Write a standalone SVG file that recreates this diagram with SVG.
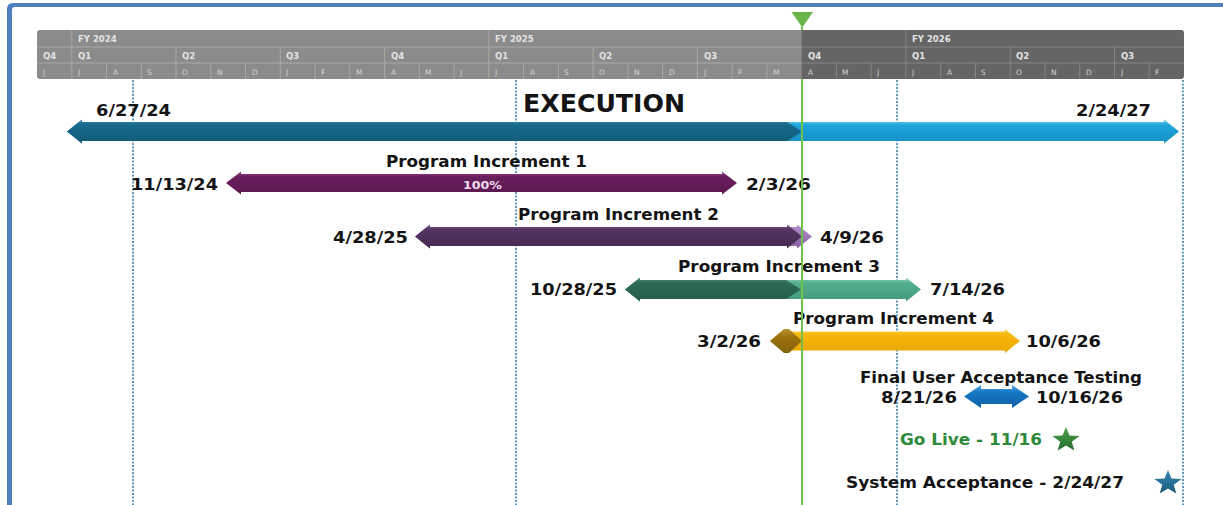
<svg xmlns="http://www.w3.org/2000/svg" width="1223" height="505" viewBox="0 0 1223 505">
<style>
.hd{font-family:"DejaVu Sans","Liberation Sans",sans-serif;font-size:8.5px;font-weight:bold;fill:#e4e4e4}
.mo{font-family:"DejaVu Sans","Liberation Sans",sans-serif;font-size:7.5px;fill:#d2d2d2}
.dv{stroke:#a9a9a9;stroke-width:1}
.dvd{stroke:#858585;stroke-width:1}
.lbl{font-family:"DejaVu Sans","Liberation Sans",sans-serif;font-weight:bold;font-size:16.5px;fill:#141414}
.guide{stroke:#2f77a8;stroke-width:1.5;stroke-dasharray:2 1.5;fill:none}
.today{stroke:#72c04e;stroke-width:2}
</style>
<defs>
<clipPath id="hclip"><rect x="37" y="30" width="1147" height="49" rx="3"/></clipPath>
<linearGradient id="gExD" x1="0" y1="0" x2="0" y2="1"><stop offset="0" stop-color="#3a8fb2"/><stop offset="0.22" stop-color="#18698b"/><stop offset="1" stop-color="#125b79"/></linearGradient>
<linearGradient id="gExL" x1="0" y1="0" x2="0" y2="1"><stop offset="0" stop-color="#7fd3f2"/><stop offset="0.22" stop-color="#1fa6db"/><stop offset="1" stop-color="#158fc3"/></linearGradient>
<linearGradient id="gP1" x1="0" y1="0" x2="0" y2="1"><stop offset="0" stop-color="#94468a"/><stop offset="0.22" stop-color="#6b1f5e"/><stop offset="1" stop-color="#5a1750"/></linearGradient>
<linearGradient id="gP2D" x1="0" y1="0" x2="0" y2="1"><stop offset="0" stop-color="#7a5a8a"/><stop offset="0.22" stop-color="#533462"/><stop offset="1" stop-color="#452a52"/></linearGradient>
<linearGradient id="gP2L" x1="0" y1="0" x2="0" y2="1"><stop offset="0" stop-color="#b08fc8"/><stop offset="1" stop-color="#8a5fa6"/></linearGradient>
<linearGradient id="gP3D" x1="0" y1="0" x2="0" y2="1"><stop offset="0" stop-color="#55907a"/><stop offset="0.22" stop-color="#2f6b55"/><stop offset="1" stop-color="#275c48"/></linearGradient>
<linearGradient id="gP3L" x1="0" y1="0" x2="0" y2="1"><stop offset="0" stop-color="#8fd3b8"/><stop offset="0.22" stop-color="#52b08e"/><stop offset="1" stop-color="#44997b"/></linearGradient>
<linearGradient id="gP4Y" x1="0" y1="0" x2="0" y2="1"><stop offset="0" stop-color="#ffd860"/><stop offset="0.22" stop-color="#f7b80e"/><stop offset="1" stop-color="#eaa700"/></linearGradient>
<linearGradient id="gP4D" x1="0" y1="0" x2="0" y2="1"><stop offset="0" stop-color="#bf9532"/><stop offset="0.3" stop-color="#9c7410"/><stop offset="1" stop-color="#84620b"/></linearGradient>
<linearGradient id="gFU" x1="0" y1="0" x2="0" y2="1"><stop offset="0" stop-color="#5aaeea"/><stop offset="0.3" stop-color="#1678c5"/><stop offset="1" stop-color="#0f61a5"/></linearGradient>
<linearGradient id="gStarG" x1="0" y1="0" x2="0" y2="1"><stop offset="0" stop-color="#4fa34f"/><stop offset="1" stop-color="#236b2a"/></linearGradient>
<linearGradient id="gStarB" x1="0" y1="0" x2="0" y2="1"><stop offset="0" stop-color="#3a8ab3"/><stop offset="1" stop-color="#18597d"/></linearGradient>
<path id="star" d="M0,-13 L3.2,-4.4 L12.4,-4 L5.2,1.7 L7.6,10.5 L0,5.5 L-7.6,10.5 L-5.2,1.7 L-12.4,-4 L-3.2,-4.4 Z"/>
</defs>

<g id="frame">
<path d="M7,505 V9 Q7,3 13,3 H1223 V7 H15 Q12,7 12,10 V505 Z" fill="#4d80bf"/>
</g>

<g id="connectors">
<line class="guide" x1="133" y1="80" x2="133" y2="505"/>
<line class="guide" x1="516" y1="80" x2="516" y2="505"/>
<line class="guide" x1="897" y1="80" x2="897" y2="505"/>
<line class="guide" x1="1183" y1="80" x2="1183" y2="505"/>
</g>

<g id="header">
<g clip-path="url(#hclip)">
<rect x="37" y="30" width="765" height="49" fill="#8b8b8b"/>
<rect x="801.7" y="30" width="382.3" height="49" fill="#656565"/>
</g>
<line class="dv" x1="37" y1="47" x2="801.7" y2="47"/>
<line class="dv" x1="37" y1="63" x2="801.7" y2="63"/>
<line class="dvd" x1="801.7" y1="47" x2="1184" y2="47"/>
<line class="dvd" x1="801.7" y1="63" x2="1184" y2="63"/>
<g class="dv">
<line x1="71.8" y1="30" x2="71.8" y2="47"/><line x1="488.8" y1="30" x2="488.8" y2="47"/>
<line x1="71.8" y1="47" x2="71.8" y2="63"/><line x1="176" y1="47" x2="176" y2="63"/><line x1="280.3" y1="47" x2="280.3" y2="63"/><line x1="384.6" y1="47" x2="384.6" y2="63"/><line x1="488.8" y1="47" x2="488.8" y2="63"/><line x1="593.1" y1="47" x2="593.1" y2="63"/><line x1="697.4" y1="47" x2="697.4" y2="63"/>
<line x1="71.8" y1="63" x2="71.8" y2="79"/><line x1="106.5" y1="63" x2="106.5" y2="79"/><line x1="141.3" y1="63" x2="141.3" y2="79"/><line x1="176" y1="63" x2="176" y2="79"/><line x1="210.8" y1="63" x2="210.8" y2="79"/><line x1="245.5" y1="63" x2="245.5" y2="79"/><line x1="280.3" y1="63" x2="280.3" y2="79"/><line x1="315.1" y1="63" x2="315.1" y2="79"/><line x1="349.8" y1="63" x2="349.8" y2="79"/><line x1="384.6" y1="63" x2="384.6" y2="79"/><line x1="419.3" y1="63" x2="419.3" y2="79"/><line x1="454.1" y1="63" x2="454.1" y2="79"/><line x1="488.8" y1="63" x2="488.8" y2="79"/><line x1="523.6" y1="63" x2="523.6" y2="79"/><line x1="558.4" y1="63" x2="558.4" y2="79"/><line x1="593.1" y1="63" x2="593.1" y2="79"/><line x1="627.9" y1="63" x2="627.9" y2="79"/><line x1="662.6" y1="63" x2="662.6" y2="79"/><line x1="697.4" y1="63" x2="697.4" y2="79"/><line x1="732.2" y1="63" x2="732.2" y2="79"/><line x1="766.9" y1="63" x2="766.9" y2="79"/>
</g>
<g class="dvd">
<line x1="905.9" y1="30" x2="905.9" y2="47"/>
<line x1="905.9" y1="47" x2="905.9" y2="63"/><line x1="1010.2" y1="47" x2="1010.2" y2="63"/><line x1="1114.5" y1="47" x2="1114.5" y2="63"/>
<line x1="836.4" y1="63" x2="836.4" y2="79"/><line x1="871.2" y1="63" x2="871.2" y2="79"/><line x1="905.9" y1="63" x2="905.9" y2="79"/><line x1="940.7" y1="63" x2="940.7" y2="79"/><line x1="975.5" y1="63" x2="975.5" y2="79"/><line x1="1010.2" y1="63" x2="1010.2" y2="79"/><line x1="1045" y1="63" x2="1045" y2="79"/><line x1="1079.7" y1="63" x2="1079.7" y2="79"/><line x1="1114.5" y1="63" x2="1114.5" y2="79"/><line x1="1149.2" y1="63" x2="1149.2" y2="79"/>
</g>
<text class="hd" x="78" y="42">FY 2024</text>
<text class="hd" x="495" y="42">FY 2025</text>
<text class="hd" x="912" y="42">FY 2026</text>
<text class="hd" x="43" y="59">Q4</text>
<text class="hd" x="78" y="59">Q1</text>
<text class="hd" x="182" y="59">Q2</text>
<text class="hd" x="286" y="59">Q3</text>
<text class="hd" x="391" y="59">Q4</text>
<text class="hd" x="495" y="59">Q1</text>
<text class="hd" x="599" y="59">Q2</text>
<text class="hd" x="704" y="59">Q3</text>
<text class="hd" x="808" y="59">Q4</text>
<text class="hd" x="912" y="59">Q1</text>
<text class="hd" x="1016" y="59">Q2</text>
<text class="hd" x="1121" y="59">Q3</text>
<text class="mo" x="43" y="75">J</text><text class="mo" x="78" y="75">J</text><text class="mo" x="113" y="75">A</text><text class="mo" x="147" y="75">S</text><text class="mo" x="182" y="75">O</text><text class="mo" x="217" y="75">N</text><text class="mo" x="252" y="75">D</text><text class="mo" x="286" y="75">J</text><text class="mo" x="321" y="75">F</text><text class="mo" x="356" y="75">M</text><text class="mo" x="391" y="75">A</text><text class="mo" x="425" y="75">M</text><text class="mo" x="460" y="75">J</text><text class="mo" x="495" y="75">J</text><text class="mo" x="530" y="75">A</text><text class="mo" x="564" y="75">S</text><text class="mo" x="599" y="75">O</text><text class="mo" x="634" y="75">N</text><text class="mo" x="669" y="75">D</text><text class="mo" x="704" y="75">J</text><text class="mo" x="738" y="75">F</text><text class="mo" x="773" y="75">M</text><text class="mo" x="808" y="75">A</text><text class="mo" x="842" y="75">M</text><text class="mo" x="877" y="75">J</text><text class="mo" x="912" y="75">J</text><text class="mo" x="947" y="75">A</text><text class="mo" x="981" y="75">S</text><text class="mo" x="1016" y="75">O</text><text class="mo" x="1051" y="75">N</text><text class="mo" x="1086" y="75">D</text><text class="mo" x="1121" y="75">J</text><text class="mo" x="1155" y="75">F</text>
</g>

<g id="execution">
<polygon points="67,131.5 82,119.5 82,122 1164,122 1164,119.5 1179,131.5 1164,143.5 1164,141 82,141 82,143.5" fill="url(#gExL)"/>
<polygon points="67,131.5 82,119.5 82,122 787,122 802,131.5 787,141 82,141 82,143.5" fill="url(#gExD)"/>
<text class="lbl" x="523" y="112" font-size="24" style="font-size:24px" textLength="162" lengthAdjust="spacingAndGlyphs">EXECUTION</text>
<text class="lbl" x="96" y="116" textLength="75" lengthAdjust="spacingAndGlyphs">6/27/24</text>
<text class="lbl" x="1076" y="116" textLength="75" lengthAdjust="spacingAndGlyphs">2/24/27</text>
</g>

<g id="pi1">
<polygon points="226,183 241,171.5 241,174 722,174 722,171.5 737,183 722,194.5 722,192 241,192 241,194.5" fill="url(#gP1)"/>
<text class="lbl" x="386" y="167" textLength="201" lengthAdjust="spacingAndGlyphs">Program Increment 1</text>
<text class="lbl" x="131" y="190" textLength="87" lengthAdjust="spacingAndGlyphs">11/13/24</text>
<text x="463" y="189" font-family="DejaVu Sans, Liberation Sans, sans-serif" font-size="11" font-weight="bold" fill="#eedcea" textLength="39" lengthAdjust="spacingAndGlyphs">100%</text>
<text class="lbl" x="746" y="190" textLength="65" lengthAdjust="spacingAndGlyphs">2/3/26</text>
</g>

<g id="pi2">
<polygon points="415,236.5 430,224.5 430,227 797,227 797,224.5 812,236.5 797,248.5 797,246 430,246 430,248.5" fill="url(#gP2L)"/>
<polygon points="415,236.5 430,224.5 430,227 787,227 787,224.5 802,236.5 787,248.5 787,246 430,246 430,248.5" fill="url(#gP2D)"/>
<text class="lbl" x="518" y="220" textLength="201" lengthAdjust="spacingAndGlyphs">Program Increment 2</text>
<text class="lbl" x="333" y="243" textLength="75" lengthAdjust="spacingAndGlyphs">4/28/25</text>
<text class="lbl" x="820" y="243" textLength="64" lengthAdjust="spacingAndGlyphs">4/9/26</text>
</g>

<g id="pi3">
<polygon points="625,289.5 640,277.5 640,280 906,280 906,277.5 921,289.5 906,301.5 906,299 640,299 640,301.5" fill="url(#gP3L)"/>
<polygon points="625,289.5 640,277.5 640,280 786,280 801,289.5 786,299 640,299 640,301.5" fill="url(#gP3D)"/>
<text class="lbl" x="678" y="272" textLength="202" lengthAdjust="spacingAndGlyphs">Program Increment 3</text>
<text class="lbl" x="530" y="295" textLength="87" lengthAdjust="spacingAndGlyphs">10/28/25</text>
<text class="lbl" x="930" y="295" textLength="75" lengthAdjust="spacingAndGlyphs">7/14/26</text>
</g>

<g id="pi4">
<polygon points="770,341 785,329 785,331.5 1005,331.5 1005,329 1020,341 1005,353 1005,350.5 785,350.5 785,353" fill="url(#gP4Y)"/>
<polygon points="770,341 784,329 789,329 802,341 789,353 784,353" fill="url(#gP4D)"/>
<text class="lbl" x="793" y="324" textLength="201" lengthAdjust="spacingAndGlyphs">Program Increment 4</text>
<text class="lbl" x="697" y="347" textLength="64" lengthAdjust="spacingAndGlyphs">3/2/26</text>
<text class="lbl" x="1026" y="347" textLength="75" lengthAdjust="spacingAndGlyphs">10/6/26</text>
</g>

<g id="fuat">
<polygon points="964,396.5 981,385 981,389 1012,389 1012,385 1029,396.5 1012,408 1012,404 981,404 981,408" fill="url(#gFU)"/>
<text class="lbl" x="860" y="383" textLength="282" lengthAdjust="spacingAndGlyphs">Final User Acceptance Testing</text>
<text class="lbl" x="881" y="403" textLength="76" lengthAdjust="spacingAndGlyphs">8/21/26</text>
<text class="lbl" x="1036" y="403" textLength="87" lengthAdjust="spacingAndGlyphs">10/16/26</text>
</g>

<g id="today">
<line class="today" x1="802" y1="27" x2="802" y2="30"/>
<line class="today" x1="802" y1="79" x2="802" y2="505"/>
<polygon points="791.5,12 813,12 802.3,27.5" fill="#6bb548"/>
</g>

<g id="go-live">
<use href="#star" transform="translate(1066,440) scale(1.1,1)" fill="url(#gStarG)"/>
<text class="lbl" x="900" y="445" style="font-size:15px;fill:#2e8a3a" textLength="142" lengthAdjust="spacingAndGlyphs">Go Live - 11/16</text>
</g>

<g id="system-acceptance">
<use href="#star" transform="translate(1168,483) scale(1.1,1)" fill="url(#gStarB)"/>
<text class="lbl" x="846" y="488" textLength="278" lengthAdjust="spacingAndGlyphs">System Acceptance - 2/24/27</text>
</g>
</svg>
